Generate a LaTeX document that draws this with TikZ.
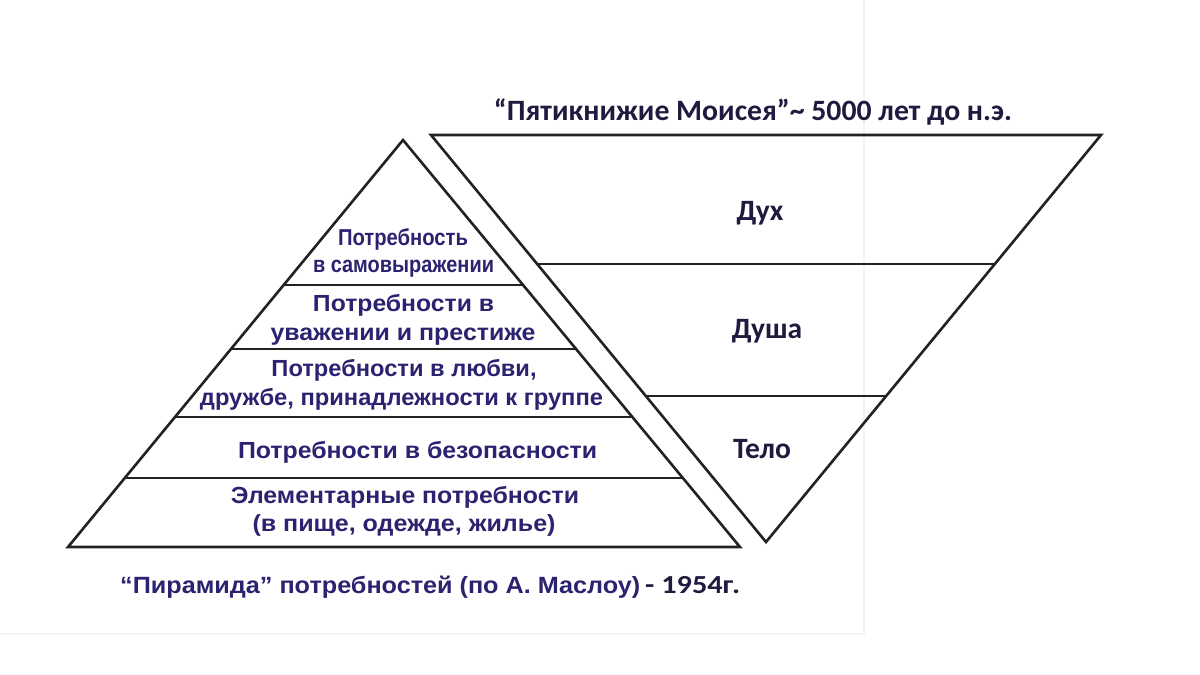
\documentclass[tikz,border=0pt]{standalone}
\usepackage{fontspec}
\usepackage{graphicx}
\setmainfont{Liberation Sans}
\newfontfamily\arialb{Liberation Sans Bold}
\newfontfamily\calfont{Carlito Bold}
\newcommand\fitw[2]{\resizebox{#1pt}{\height}{#2}}
\usetikzlibrary{calc}
\definecolor{navy}{HTML}{2B2270}
\definecolor{darktext}{HTML}{1F1B3F}
\definecolor{edgecol}{HTML}{222222}
\definecolor{faint}{HTML}{F3F3F3}
\begin{document}
\begin{tikzpicture}[x=1pt,y=-1pt,
  shp/.style={draw=edgecol,line width=2.6pt,line join=miter},
  lvl/.style={font=\arialb\fontsize{23.3}{28}\selectfont,text=navy,anchor=base,inner sep=0pt},
  lvltop/.style={font=\arialb\fontsize{23}{26}\selectfont,text=navy,anchor=base,inner sep=0pt},
  part/.style={font=\calfont\fontsize{29.5}{32}\selectfont,text=darktext,anchor=base,inner sep=0pt},
  ttl/.style={font=\calfont\fontsize{29.5}{32}\selectfont,text=darktext,anchor=base,inner sep=0pt}]
\useasboundingbox (0,0) rectangle (1200,675);
\fill[white] (0,0) rectangle (1200,675);
\draw[faint,line width=2pt] (864,0) -- (864,634) -- (0,634);
% Maslow pyramid
\coordinate (A) at (403,140);
\coordinate (BL) at (68,547);
\coordinate (BR) at (740,547);
\draw[shp] (A) -- (BL) -- (BR) -- cycle;
\foreach \d in {145,209,277,338}
  \draw[shp] ($(A)!\d/407!(BL)$) -- ($(A)!\d/407!(BR)$);
% inverted triangle
\coordinate (TL) at (431,135);
\coordinate (TR) at (1101,135);
\coordinate (V) at (766,542);
\draw[shp] (TL) -- (TR) -- (V) -- cycle;
\foreach \d in {129,261}
  \draw[shp] ($(TL)!\d/407!(V)$) -- ($(TR)!\d/407!(V)$);
% pyramid texts
\node[lvltop] (l1a) at (403,245) {\fitw{130}{Потребность}};
\node[lvltop] (l1b) at (403.5,272) {\fitw{181}{в самовыражении}};
\node[lvl] (l2a) at (403.5,311) {\fitw{181}{Потребности в}};
\node[lvl] (l2b) at (403,340) {\fitw{265}{уважении и престиже}};
\node[lvl] (l3a) at (404,376) {\fitw{265}{Потребности в любви,}};
\node[lvl] (l3b) at (401.5,405) {\fitw{403}{дружбе, принадлежности к группе}};
\node[lvl] (l4) at (417.5,458) {\fitw{359}{Потребности в безопасности}};
\node[lvl] (l5a) at (405,503) {\fitw{348}{Элементарные потребности}};
\node[lvl] (l5b) at (404,531) {\fitw{303}{(в пище, одежде, жилье)}};
% right texts
\node[part] (dukh) at (760,220) {Дух};
\node[part] (dusha) at (767,338) {Душа};
\node[part] (telo) at (762,458) {Тело};
\node[ttl] (title) at (753,120) {\fitw{518}{“Пятикнижие Моисея”\textasciitilde\ 5000 лет до н.э.}};
\node[anchor=base west,inner sep=0pt,text=navy] (cap) at (120,593)
  {{\arialb\fontsize{23.5}{28}\selectfont\fitw{520}{“Пирамида” потребностей (по А. Маслоу)}}\hspace{5pt}{\calfont\fontsize{26}{30}\selectfont\color{darktext}\fitw{95}{- 1954г.}}};
\end{tikzpicture}
\end{document}
